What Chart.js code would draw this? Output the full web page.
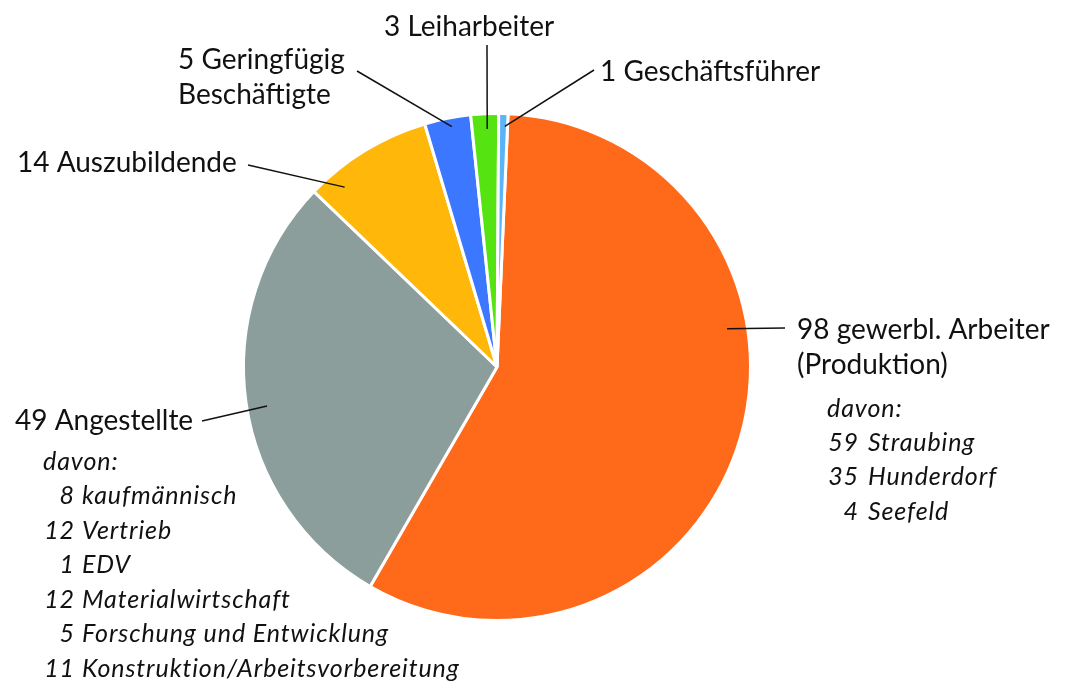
<!DOCTYPE html>
<html>
<head>
<meta charset="utf-8">
<script src="https://cdn.jsdelivr.net/npm/chart.js@4"></script>
<style>
  body { margin: 0; background: #fff; }
</style>
</head>
<body>
<canvas id="staffChart" width="1071" height="683"></canvas>
<script>
// Mitarbeiterstruktur
const categories = ['gewerbl. Arbeiter', 'Angestellte', 'Auszubildende', 'Geringfügig', 'Leiharbeiter', 'Geschäftsführer'];
const secondLines = ['(Produktion)', null, null, 'Beschäftigte', null, null];
const counts = [98, 49, 14, 5, 3, 1];
const sliceColors = ['#FF6A1A', '#8B9E9C', '#FFB70A', '#3C78FF', '#55E412', '#5AB4FA'];

const produktionSites = ['Straubing', 'Hunderdorf', 'Seefeld'];
const produktionCounts = [59, 35, 4];
const angestellteDepts = ['kaufmännisch', 'Vertrieb', 'EDV', 'Materialwirtschaft', 'Forschung und Entwicklung', 'Konstruktion/Arbeitsvorbereitung'];
const angestellteCounts = [8, 12, 1, 12, 5, 11];

// label anchors: text position, leader start, where the leader ends inside the slice (fraction of arc, fraction of radius)
const labelLayout = [
  { x: 797, y: 330, lx: 785, ly: 328, t: 0.376, rf: 0.92 },
  { x: 15,  y: 421, lx: 202, ly: 421, t: 0.485, rf: 0.92 },
  { x: 17,  y: 163, lx: 248, ly: 165, t: 0.2,   rf: 0.93 },
  { x: 178, y: 60,  lx: 357, ly: 71,  t: 0.56,  rf: 0.965 },
  { x: 384, y: 27,  lx: 487, ly: 45,  t: 0.57,  rf: 0.94 },
  { x: 600, y: 72,  lx: 594, ly: 70,  t: 0.7,   rf: 0.95 }
];

const FONT = 'Lato, "DejaVu Sans", sans-serif';

const labelPlugin = {
  id: 'pieLabels',
  afterDatasetsDraw(chart) {
    const ctx = chart.ctx;
    const meta = chart.getDatasetMeta(0);
    ctx.save();
    ctx.strokeStyle = '#111';
    ctx.lineWidth = 1.5;
    ctx.fillStyle = '#111';
    ctx.textBaseline = 'middle';

    meta.data.forEach(function(arc, i) {
      const p = arc.getProps(['x', 'y', 'startAngle', 'endAngle', 'outerRadius'], true);
      const L = labelLayout[i];
      const a = p.startAngle + L.t * (p.endAngle - p.startAngle);
      const ex = p.x + Math.cos(a) * p.outerRadius * L.rf;
      const ey = p.y + Math.sin(a) * p.outerRadius * L.rf;
      ctx.beginPath();
      ctx.moveTo(L.lx, L.ly);
      ctx.lineTo(ex, ey);
      ctx.stroke();

      ctx.font = '28px ' + FONT;
      ctx.textAlign = 'left';
      ctx.fillText(counts[i] + ' ' + categories[i], L.x, L.y);
      if (secondLines[i]) {
        ctx.fillText(secondLines[i], L.x, L.y + 35);
      }
    });

    // breakdowns
    ctx.font = 'italic 25px ' + FONT;
    ctx.letterSpacing = '0.9px';
    ctx.textAlign = 'left';
    ctx.fillText('davon:', 827, 409);
    produktionSites.forEach(function(s, j) {
      const y = 443 + j * 34.3;
      ctx.textAlign = 'right';
      ctx.fillText(String(produktionCounts[j]), 859, y);
      ctx.textAlign = 'left';
      ctx.fillText(s, 868, y);
    });

    ctx.textAlign = 'left';
    ctx.fillText('davon:', 43, 462);
    angestellteDepts.forEach(function(d, j) {
      const y = 496 + j * 34.6;
      ctx.textAlign = 'right';
      ctx.fillText(String(angestellteCounts[j]), 75, y);
      ctx.textAlign = 'left';
      ctx.fillText(d, 82, y);
    });
    ctx.restore();
  }
};

const ctx = document.getElementById('staffChart').getContext('2d');
new Chart(ctx, {
  type: 'pie',
  data: {
    labels: categories,
    datasets: [{
      data: counts,
      backgroundColor: sliceColors,
      borderColor: '#fff',
      borderWidth: 3
    }]
  },
  options: {
    responsive: false,
    animation: false,
    rotation: 2.5,
    layout: { padding: { left: 242, right: 319, top: 112, bottom: 61 } },
    plugins: {
      legend: { display: false },
      tooltip: { enabled: false }
    }
  },
  plugins: [labelPlugin]
});
</script>
</body>
</html>
